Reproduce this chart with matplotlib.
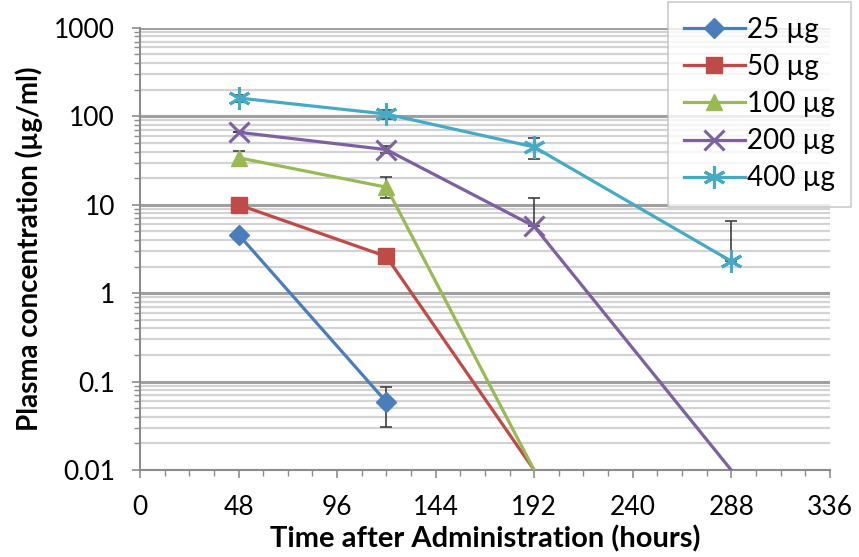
import numpy as np
import matplotlib
matplotlib.use("Agg")
import matplotlib.pyplot as plt
from matplotlib.ticker import MultipleLocator, LogLocator, FixedFormatter, FixedLocator

plt.rcParams['font.family'] = ['Lato', 'DejaVu Sans']

nan = np.nan
times = [48, 120, 192, 288]
labels = ["25 µg", "50 µg", "100 µg", "200 µg", "400 µg"]

conc_25 = [4.6, 0.059, nan, nan]
conc_50 = [10.0, 2.6, 0.01, nan]
conc_100 = [34.0, 15.8, 0.01, nan]
conc_200 = [66.0, 42.0, 5.7, 0.01]
conc_400 = [161.0, 106.0, 45.0, 2.3]

err_lo_25 = [0.0, 0.028, 0, 0]
err_hi_25 = [0.0, 0.027, 0, 0]
err_lo_50 = [0.0, 0.0, 0, 0]
err_hi_50 = [0.0, 0.0, 0, 0]
err_lo_100 = [6.0, 4.0, 0, 0]
err_hi_100 = [7.0, 4.8, 0, 0]
err_lo_200 = [0.0, 4.0, 0.0, 0]
err_hi_200 = [0.0, 4.0, 6.3, 0]
err_lo_400 = [15.0, 12.0, 12.0, 0.0]
err_hi_400 = [15.0, 12.0, 12.0, 4.3]

# points that are only line ends (no marker shown)
marked = [[0, 1], [0, 1], [0, 1], [0, 1, 2], [0, 1, 2, 3]]

series = [conc_25, conc_50, conc_100, conc_200, conc_400]
errs_lo = [err_lo_25, err_lo_50, err_lo_100, err_lo_200, err_lo_400]
errs_hi = [err_hi_25, err_hi_50, err_hi_100, err_hi_200, err_hi_400]
colors = ["#4A7EBB", "#BE4B48", "#98B954", "#7D60A0", "#46AAC5"]
markers = ["D", "s", "^", "x", (6, 2, 0)]
msizes = [10, 12, 12, 14, 16]

fig = plt.figure(figsize=(8.59, 5.57), dpi=100)
ax = fig.add_axes([0.163, 0.156, 0.803, 0.794])

for i in range(len(series)):
    y = np.array(series[i])
    lo = np.array(errs_lo[i])
    hi = np.array(errs_hi[i])
    ax.errorbar(times, y, yerr=[lo, hi], fmt="none", ecolor="#404040",
                elinewidth=1.2, capsize=4, capthick=1.2, zorder=2)
    ax.plot(times, y, color=colors[i], lw=2.3, marker=markers[i],
            markersize=msizes[i], markeredgewidth=2.2 if i >= 3 else 1,
            markevery=marked[i], label=labels[i], zorder=3, clip_on=True)

ax.set_yscale("log")
ax.set_ylim(0.01, 1000)
ax.set_xlim(0, 336)
ax.xaxis.set_major_locator(MultipleLocator(48))
ax.xaxis.set_minor_locator(MultipleLocator(12))
ax.yaxis.set_major_locator(FixedLocator([0.01, 0.1, 1, 10, 100, 1000]))
ax.yaxis.set_major_formatter(FixedFormatter(["0.01", "0.1", "1", "10", "100", "1000"]))
ax.yaxis.set_minor_locator(LogLocator(base=10, subs=np.arange(2, 10), numticks=20))
ax.yaxis.set_minor_formatter(plt.NullFormatter())

ax.grid(True, which="major", axis="y", color="#A0A0A0", lw=2.2)
ax.grid(True, which="minor", axis="y", color="#D3D3D3", lw=1.6)
ax.set_axisbelow(True)

for s in ["top", "right"]:
    ax.spines[s].set_visible(False)
for s in ["left", "bottom"]:
    ax.spines[s].set_color("#8C8C8C")
    ax.spines[s].set_linewidth(1.5)

ax.tick_params(axis="both", which="major", labelsize=19, color="#8C8C8C",
               length=6, width=1.2, pad=12)
ax.tick_params(axis="both", which="minor", color="#8C8C8C", length=4, width=1)

ax.set_xlabel("Time after Administration (hours)", fontsize=21, fontweight="bold", labelpad=4)
ax.set_ylabel("Plasma concentration (µg/ml)", fontsize=20, fontweight="bold", labelpad=8)

leg = ax.legend(loc="upper left", bbox_to_anchor=(0.778, 0.997), bbox_transform=fig.transFigure,
                fontsize=20, frameon=True, fancybox=False, edgecolor="#BFBFBF",
                handlelength=2.2, handletextpad=0.1, labelspacing=0.4, borderpad=0.55,
                borderaxespad=0)
leg.get_frame().set_linewidth(1.2)

fig.savefig("out.png", dpi=100)
